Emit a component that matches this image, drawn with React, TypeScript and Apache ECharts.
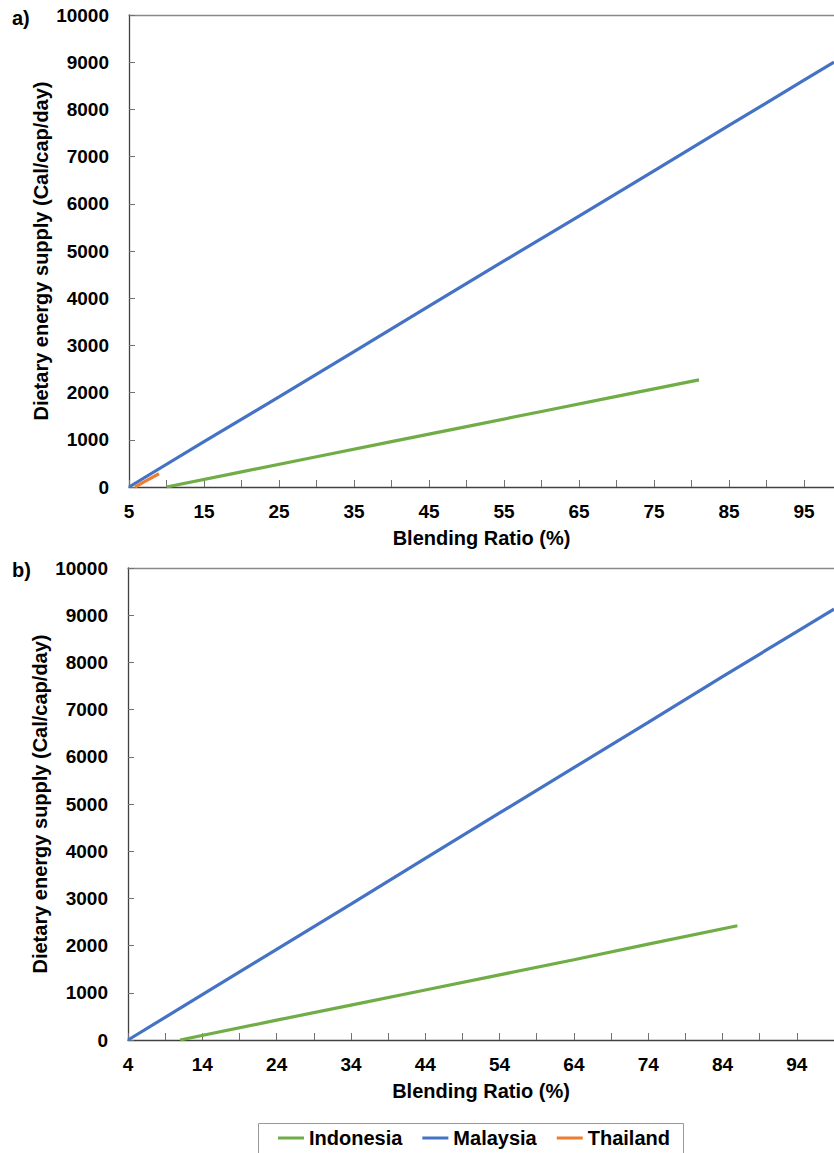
import React, { useEffect, useRef } from "react";
import * as echarts from "echarts";

// ---- Data ----
const INDONESIA_A: [number, number][] = [[10, 0], [20, 320], [30, 640], [40, 960], [50, 1280], [60, 1600], [70, 1920], [81, 2270]];
const MALAYSIA_A: [number, number][] = [[5, 0], [15, 960], [25, 1910], [35, 2870], [45, 3830], [55, 4790], [65, 5740], [75, 6700], [85, 7660], [95, 8620], [99, 9000]];
const THAILAND_A: [number, number][] = [[5.8, 0], [7, 110], [9, 280]];
const INDONESIA_B: [number, number][] = [[11, 0], [24, 420], [34, 740], [44, 1060], [54, 1380], [64, 1700], [74, 2030], [86, 2420]];
const MALAYSIA_B: [number, number][] = [[4, 0], [14, 960], [24, 1920], [34, 2880], [44, 3850], [54, 4810], [64, 5770], [74, 6730], [84, 7700], [94, 8650], [99, 9130]];

const X_LABELS_A = [5, 15, 25, 35, 45, 55, 65, 75, 85, 95];
const X_TICKS_A = [5, 10, 15, 20, 25, 30, 35, 40, 45, 50, 55, 60, 65, 70, 75, 80, 85, 90, 95];
const X_LABELS_B = [4, 14, 24, 34, 44, 54, 64, 74, 84, 94];
const X_TICKS_B = [4, 9, 14, 19, 24, 29, 34, 39, 44, 49, 54, 59, 64, 69, 74, 79, 84, 89, 94, 99];

const SERIES_NAMES = ["Indonesia", "Malaysia", "Thailand"];
const COLORS: Record<string, string> = { Indonesia: "#70AD47", Malaysia: "#4472C4", Thailand: "#ED7D31" };

const X_NAME = "Blending Ratio (%)";
const Y_NAME = "Dietary energy supply (Cal/cap/day)";

const FONT = "'Liberation Sans', Arial, sans-serif";

export default function App() {
  const ref = useRef<HTMLDivElement>(null);

  useEffect(() => {
    if (!ref.current) return;
    const chart = echarts.init(ref.current, undefined, { renderer: "svg" });

    const xAxisBase = (grid: number, min: number, labels: number[], ticks: number[]) => ({
      type: "value",
      gridIndex: grid,
      position: "bottom",
      min,
      max: 99,
      name: X_NAME,
      nameLocation: "middle",
      nameGap: 41,
      nameMoveOverlap: false,
      nameTextStyle: { fontFamily: FONT, fontSize: 20, fontWeight: "bold", color: "#000" },
      axisLine: { show: true, lineStyle: { color: "#404040", width: 1.3 } },
      axisTick: { show: true, inside: true, length: 7, customValues: ticks, lineStyle: { color: "#707070" } },
      axisLabel: { customValues: labels, margin: 15, fontFamily: FONT, fontSize: 19, fontWeight: "bold", color: "#000", formatter: (v: number) => String(v) },
      splitLine: { show: false },
    });
    const xTop = (grid: number, min: number) => ({
      type: "value",
      gridIndex: grid,
      position: "top",
      min,
      max: 99,
      axisLine: { show: true, lineStyle: { color: "#888888", width: 1.3 } },
      axisTick: { show: false },
      axisLabel: { show: false },
      splitLine: { show: false },
    });
    const yAxis = (grid: number) => ({
      type: "value",
      gridIndex: grid,
      min: 0,
      max: 10000,
      interval: 1000,
      name: Y_NAME,
      nameLocation: "middle",
      nameGap: 78,
      nameMoveOverlap: false,
      nameTextStyle: { fontFamily: FONT, fontSize: 20, fontWeight: "bold", color: "#000" },
      axisLine: { show: true, lineStyle: { color: "#404040", width: 1.3 } },
      axisTick: { show: true, inside: true, length: 6, lineStyle: { color: "#707070" } },
      axisLabel: { margin: 20, fontFamily: FONT, fontSize: 19, fontWeight: "bold", color: "#000", formatter: (v: number) => String(v) },
      splitLine: { show: false },
    });
    const line = (name: string, data: [number, number][], axis: number) => ({
      type: "line",
      name,
      data,
      xAxisIndex: axis * 2,
      yAxisIndex: axis,
      showSymbol: false,
      symbol: "none",
      lineStyle: { color: COLORS[name], width: 3.2 },
      itemStyle: { color: COLORS[name] },
    });

    chart.setOption({
      animation: false,
      backgroundColor: "#ffffff",
      grid: [
        { left: 129, right: 0, top: 15, height: 472 },
        { left: 128, right: 0, top: 568, height: 472 },
      ],
      xAxis: [
        xAxisBase(0, 5, X_LABELS_A, X_TICKS_A),
        xTop(0, 5),
        xAxisBase(1, 4, X_LABELS_B, X_TICKS_B),
        xTop(1, 4),
      ],
      yAxis: [yAxis(0), yAxis(1)],
      legend: {
        data: SERIES_NAMES,
        left: 278,
        top: 1128,
        padding: 0,
        icon: "rect",
        itemWidth: 26,
        itemHeight: 3,
        itemGap: 20,
        textStyle: { fontFamily: FONT, fontSize: 20, fontWeight: "bold", color: "#000" },
      },
      graphic: [
        { type: "text", left: 12, top: 8, style: { text: "a)", fontFamily: FONT, fontSize: 20, fontWeight: "bold", fill: "#000" } },
        { type: "text", left: 12, top: 560, style: { text: "b)", fontFamily: FONT, fontSize: 20, fontWeight: "bold", fill: "#000" } },
        { type: "rect", shape: { x: 258.5, y: 1123.5, width: 425, height: 45 }, style: { fill: "none", stroke: "#999999", lineWidth: 1 } },
      ],
      series: [
        line("Indonesia", INDONESIA_A, 0),
        line("Malaysia", MALAYSIA_A, 0),
        line("Thailand", THAILAND_A, 0),
        line("Indonesia", INDONESIA_B, 1),
        line("Malaysia", MALAYSIA_B, 1),
      ],
    });

    return () => chart.dispose();
  }, []);

  return (
    <div
      ref={ref}
      style={{ position: "fixed", left: 0, top: 0, width: 834, height: 1153, background: "#fff" }}
    />
  );
}
